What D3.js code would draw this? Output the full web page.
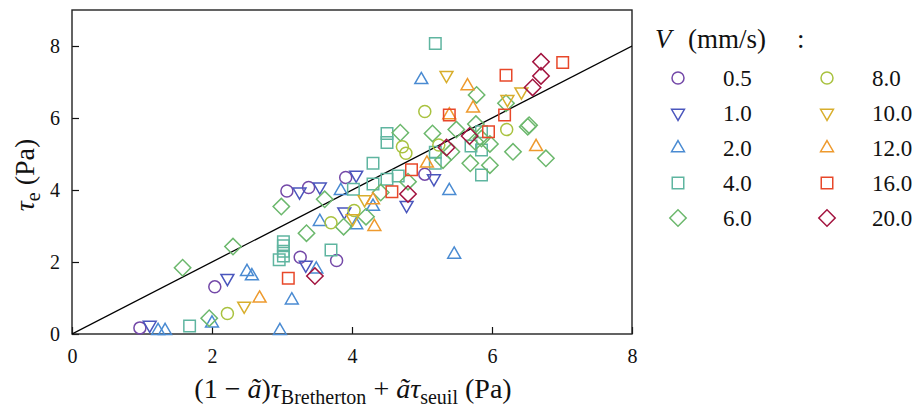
<!DOCTYPE html>
<html>
<head>
<meta charset="utf-8">
<script src="https://cdn.jsdelivr.net/npm/d3@7"></script>
<style>
  html, body { margin: 0; padding: 0; background: #fff; }
  svg text { font-family: "Liberation Serif", "DejaVu Serif", serif; fill: #111; }
</style>
</head>
<body>
<svg id="chart" width="915" height="410"></svg>
<script>
// ---- data (x = (1-ã)τ_Bretherton + ã τ_seuil, y = τ_e), Pa ----
const speeds = ["0.5", "1.0", "2.0", "4.0", "6.0", "8.0", "10.0", "12.0", "16.0", "20.0"];
const v05 = [[0.97,0.17],[2.04,1.31],[3.07,3.97],[3.38,4.07],[3.91,4.35],[3.26,2.13],[3.78,2.04],[5.04,4.44]];
const v10 = [[1.11,0.25],[2.22,1.55],[3.25,3.95],[3.54,4.09],[4.06,4.42],[3.34,1.92],[3.89,3.40],[4.78,3.58],[5.17,4.32]];
const v20 = [[1.23,0.09],[1.33,0.09],[2.00,0.30],[2.50,1.73],[2.57,1.61],[2.97,0.09],[3.14,0.94],[3.49,1.80],[3.54,3.12],[3.84,3.98],[4.06,3.03],[4.30,3.54],[4.99,7.06],[5.39,3.98],[5.46,2.21]];
const v40 = [[1.68,0.22],[2.96,2.06],[3.02,2.17],[3.02,2.30],[3.02,2.45],[3.02,2.56],[3.70,2.33],[4.02,4.02],[4.30,4.17],[4.30,4.74],[4.50,4.30],[4.50,5.32],[4.50,5.57],[4.66,4.39],[5.19,4.74],[5.19,5.05],[5.19,8.07],[5.70,5.22],[5.85,5.11],[5.85,4.42],[5.85,5.62]];
const v60 = [[1.58,1.84],[1.96,0.44],[2.30,2.43],[2.99,3.54],[3.35,2.80],[3.61,3.74],[3.88,2.98],[4.20,3.26],[4.41,3.93],[4.69,5.59],[4.80,4.23],[5.15,5.57],[5.30,4.83],[5.42,5.06],[5.49,5.68],[5.69,4.74],[5.76,5.34],[5.77,5.83],[5.78,6.64],[5.85,5.43],[5.97,5.28],[5.97,4.69],[6.20,6.41],[6.30,5.06],[6.51,5.76],[6.53,5.80],[6.77,4.88]];
const v80 = [[2.22,0.57],[3.70,3.09],[4.03,3.43],[4.72,5.20],[4.77,5.02],[5.04,6.18],[5.24,5.25],[6.21,5.68]];
const v100 = [[2.46,0.78],[4.01,3.21],[4.18,3.74],[5.35,7.19],[6.22,6.52],[6.42,6.73]];
const v120 = [[2.68,0.99],[4.30,3.72],[4.32,2.98],[5.07,4.74],[5.39,6.08],[5.65,6.89],[5.73,6.27],[6.63,5.20]];
const v160 = [[3.09,1.55],[4.57,3.95],[4.85,4.56],[5.39,6.08],[5.95,5.62],[6.18,6.08],[6.20,7.19],[7.01,7.54]];
const v200 = [[3.47,1.61],[4.80,3.89],[5.35,5.18],[5.68,5.50],[6.58,6.85],[6.70,7.17],[6.70,7.56]];
const seriesData = [v05, v10, v20, v40, v60, v80, v100, v120, v160, v200];
const markers = ["circle","triDown","triUp","square","diamond","circle","triDown","triUp","square","diamond"];
const colors = ["#7449a8","#4a56bd","#4a8bd2","#5fb5a0","#6cb86d","#a9c23f","#d8ae2c","#ee9a2e","#e8482a","#a3143f"];
const xTicks = [0, 2, 4, 6, 8];
const yTicks = [0, 2, 4, 6, 8];
const refLine = [[0,0],[8,8]];

// ---- layout ----
const svg = d3.select("#chart");
const L = 72, R = 632, T = 10, B = 334;
const x = d3.scaleLinear().domain([0, 8]).range([L, R]);
const y = d3.scaleLinear().domain([0, 9]).range([B, T]);

// axes
const xAxis = d3.axisBottom(x).tickValues(xTicks).tickSizeInner(-7).tickSizeOuter(0).tickPadding(14);
const yAxis = d3.axisLeft(y).tickValues(yTicks).tickSizeInner(-7).tickSizeOuter(0).tickPadding(12);
const gx = svg.append("g").attr("transform", `translate(0,${B})`).call(xAxis);
const gy = svg.append("g").attr("transform", `translate(${L},0)`).call(yAxis);
[gx, gy].forEach(g => {
  g.select(".domain").remove();
  g.selectAll(".tick line").attr("stroke", "#111").attr("stroke-width", 1.2);
  g.selectAll(".tick text").style("font-size", "20px").attr("fill", "#111");
});
gx.selectAll(".tick text").attr("dy", "0.75em");

// frame
svg.append("rect").attr("x", L).attr("y", T).attr("width", R - L).attr("height", B - T)
  .attr("fill", "none").attr("stroke", "#222").attr("stroke-width", 1.4);

// clip
svg.append("clipPath").attr("id", "clip").append("rect")
  .attr("x", L).attr("y", T).attr("width", R - L).attr("height", B - T);

// reference line
svg.append("path").attr("clip-path", "url(#clip)")
  .attr("d", d3.line().x(d => x(d[0])).y(d => y(d[1]))(refLine))
  .attr("fill", "none").attr("stroke", "#000").attr("stroke-width", 1.3);

// marker path builder
function markerPath(kind) {
  if (kind === "circle") return d3.symbol(d3.symbolCircle, Math.PI * 36)();
  if (kind === "square") return d3.symbol(d3.symbolSquare, 11.5 * 11.5)();
  if (kind === "diamond") return d3.symbol(d3.symbolSquare, 11.6 * 11.6)();
  return d3.symbol(d3.symbolTriangle, 72)();
}
function markerTransform(kind, px, py) {
  if (kind === "diamond") return `translate(${px},${py}) rotate(45)`;
  if (kind === "triDown") return `translate(${px},${py}) rotate(180)`;
  return `translate(${px},${py})`;
}

// points
const pts = svg.append("g");
seriesData.forEach((data, i) => {
  pts.append("g").selectAll("path").data(data).join("path")
    .attr("d", markerPath(markers[i]))
    .attr("transform", d => markerTransform(markers[i], x(d[0]), y(d[1])))
    .attr("fill", "none").attr("stroke", colors[i]).attr("stroke-width", 1.5);
});

// axis labels
const xl = svg.append("text").attr("x", 353).attr("y", 398).attr("text-anchor", "middle").style("font-size", "28px");
xl.append("tspan").text("(1 − ");
xl.append("tspan").attr("font-style", "italic").text("ã");
xl.append("tspan").text(")");
xl.append("tspan").attr("font-style", "italic").text("τ");
xl.append("tspan").attr("baseline-shift", "-28%").style("font-size", "20px").text("Bretherton");
xl.append("tspan").text(" + ");
xl.append("tspan").attr("font-style", "italic").text("ãτ");
xl.append("tspan").attr("baseline-shift", "-28%").style("font-size", "20px").text("seuil");
xl.append("tspan").text(" (Pa)");

const yl = svg.append("text").attr("transform", "translate(34,175) rotate(-90)").attr("text-anchor", "middle").style("font-size", "28px");
yl.append("tspan").attr("font-style", "italic").text("τ");
yl.append("tspan").attr("baseline-shift", "-28%").style("font-size", "20px").text("e");
yl.append("tspan").text(" (Pa)");

// legend
const lt = svg.append("text").attr("y", 48).style("font-size", "27px");
lt.append("tspan").attr("x", 655).attr("font-style", "italic").text("V");
lt.append("tspan").attr("x", 688).text("(mm/s)");
lt.append("tspan").attr("x", 797).text(":");

const leg = svg.append("g");
speeds.forEach((s, i) => {
  const col = Math.floor(i / 5), row = i % 5;
  const mx = col === 0 ? 678 : 827;
  const my = 78 + row * 35;
  leg.append("path").attr("d", markerPath(markers[i]))
    .attr("transform", markerTransform(markers[i], mx, my))
    .attr("fill", "none").attr("stroke", colors[i]).attr("stroke-width", 1.5);
  leg.append("text").attr("x", mx + 45).attr("y", my + 8).style("font-size", "23px").text(s);
});
</script>
</body>
</html>
